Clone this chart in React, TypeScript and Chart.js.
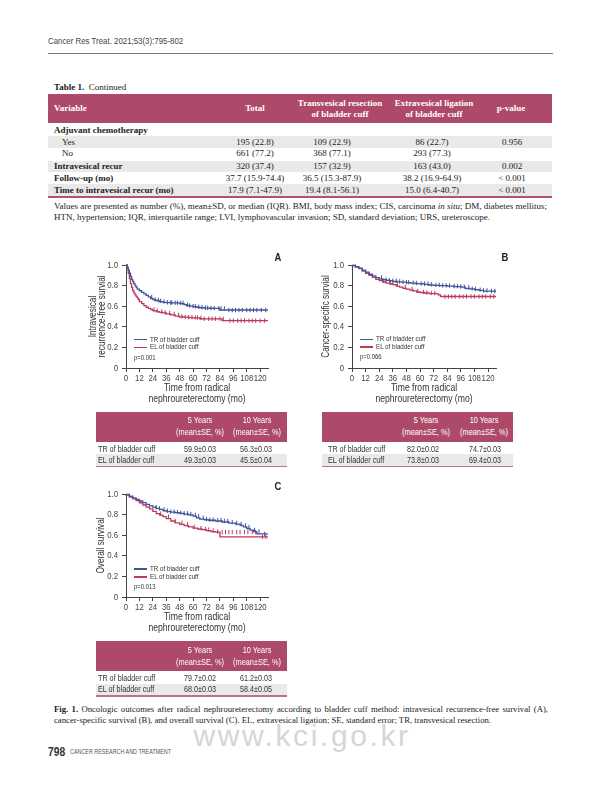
import React, { useEffect, useRef } from "react";
import { Chart, registerables } from "chart.js";
Chart.register(...registerables);

const SANS = '"Liberation Sans", Arial, sans-serif';
const SERIF = '"Liberation Serif", "Times New Roman", serif';
const NARROW = 0.82; // horizontal squeeze to imitate the condensed face of the original
const MAROON = "#ad4a69";
const SHADE = "#e9e9e9";

const X_TICKS = [0, 12, 24, 36, 48, 60, 72, 84, 96, 108, 120];
const Y_TICKS = [0, 0.2, 0.4, 0.6, 0.8, 1.0];
const X_MAX = 127;
const SERIES = ["TR of bladder cuff", "EL of bladder cuff"];
const COLORS = ["#41549a", "#bb3a5c"];

// Panel A: intravesical recurrence-free survival
const A_TR_T = [0, 1, 2, 3, 4, 5, 6, 7, 8, 9, 10, 12, 14, 16, 18, 20, 22, 24, 26, 28, 30, 33, 36, 40, 44, 48, 52, 54, 57, 60, 63, 66, 70, 74, 78, 84, 89, 127];
const A_TR_S = [1.0, 1.0, 0.98, 0.95, 0.92, 0.89, 0.86, 0.84, 0.82, 0.8, 0.785, 0.765, 0.75, 0.735, 0.72, 0.705, 0.69, 0.675, 0.665, 0.658, 0.652, 0.645, 0.638, 0.635, 0.633, 0.632, 0.625, 0.615, 0.607, 0.6, 0.595, 0.59, 0.585, 0.582, 0.58, 0.578, 0.563, 0.563];
const A_TR_C = [23, 26, 29, 31, 34, 37, 40, 41, 44, 46, 49, 51, 55, 57, 60, 62, 65, 68, 71, 73, 76, 79, 83, 85, 88, 92, 95, 98, 101, 104, 108, 111, 114, 117, 121, 125];
const A_EL_T = [0, 1, 2, 3, 4, 5, 6, 7, 8, 9, 10, 11, 12, 14, 16, 18, 20, 22, 24, 27, 30, 33, 36, 40, 44, 48, 52, 56, 60, 66, 69, 86, 89, 127];
const A_EL_S = [1.0, 1.0, 0.97, 0.92, 0.87, 0.82, 0.78, 0.75, 0.73, 0.71, 0.695, 0.68, 0.665, 0.645, 0.625, 0.605, 0.59, 0.578, 0.568, 0.558, 0.548, 0.54, 0.535, 0.525, 0.515, 0.503, 0.495, 0.493, 0.49, 0.487, 0.478, 0.476, 0.46, 0.46];
const A_EL_C = [25, 28, 32, 35, 39, 43, 47, 50, 53, 56, 59, 62, 64, 67, 70, 74, 77, 80, 84, 87, 93, 96, 100, 103, 106, 110, 113, 116, 120, 124];

// Panel B: cancer-specific survival
const B_TR_T = [0, 3, 6, 9, 12, 15, 18, 21, 24, 27, 30, 33, 36, 40, 44, 48, 52, 56, 60, 64, 68, 72, 78, 84, 90, 96, 100, 104, 108, 112, 116, 120, 127];
const B_TR_S = [1.0, 0.995, 0.985, 0.97, 0.95, 0.93, 0.91, 0.895, 0.878, 0.865, 0.858, 0.852, 0.848, 0.84, 0.836, 0.833, 0.828, 0.825, 0.82, 0.818, 0.812, 0.806, 0.802, 0.8, 0.795, 0.79, 0.785, 0.772, 0.768, 0.76, 0.753, 0.747, 0.747];
const B_TR_C = [26, 30, 33, 36, 39, 42, 45, 48, 50, 54, 57, 61, 64, 67, 70, 74, 77, 80, 83, 86, 90, 93, 96, 99, 103, 106, 109, 113, 116, 119, 123, 126];
const B_EL_T = [0, 3, 6, 9, 12, 15, 18, 21, 24, 27, 30, 33, 36, 39, 42, 45, 48, 51, 54, 57, 60, 64, 68, 76, 78, 80, 127];
const B_EL_S = [1.0, 0.995, 0.98, 0.965, 0.94, 0.92, 0.9, 0.88, 0.86, 0.848, 0.835, 0.825, 0.818, 0.81, 0.795, 0.785, 0.773, 0.765, 0.756, 0.748, 0.738, 0.733, 0.728, 0.722, 0.71, 0.694, 0.694];
const B_EL_C = [28, 34, 40, 47, 53, 58, 63, 66, 70, 73, 82, 85, 88, 91, 95, 98, 101, 105, 108, 112, 115, 118, 122, 125];

// Panel C: overall survival
const C_TR_T = [0, 3, 6, 9, 12, 15, 18, 21, 24, 27, 30, 33, 36, 40, 44, 48, 52, 56, 60, 63, 66, 70, 74, 80, 86, 92, 98, 102, 105, 108, 111, 114, 117, 120, 127];
const C_TR_S = [1.0, 0.995, 0.978, 0.962, 0.948, 0.932, 0.916, 0.9, 0.885, 0.872, 0.86, 0.85, 0.838, 0.828, 0.824, 0.82, 0.812, 0.805, 0.797, 0.785, 0.768, 0.757, 0.75, 0.745, 0.738, 0.728, 0.718, 0.708, 0.695, 0.68, 0.665, 0.65, 0.635, 0.612, 0.612];
const C_TR_C = [27, 30, 34, 37, 40, 43, 46, 49, 52, 55, 58, 62, 65, 69, 72, 75, 78, 82, 85, 88, 91, 95, 99, 103, 107, 110, 115, 119, 124];
const C_EL_T = [0, 3, 6, 9, 12, 15, 18, 21, 24, 27, 30, 33, 36, 40, 44, 48, 52, 56, 60, 64, 68, 72, 76, 80, 84, 118, 127];
const C_EL_S = [1.0, 0.99, 0.97, 0.953, 0.935, 0.915, 0.893, 0.873, 0.855, 0.832, 0.81, 0.795, 0.78, 0.76, 0.738, 0.72, 0.705, 0.693, 0.68, 0.668, 0.66, 0.655, 0.645, 0.635, 0.63, 0.584, 0.584];
const C_EL_C = [31, 38, 44, 50, 55, 61, 67, 71, 74, 78, 82, 86, 89, 92, 95, 99, 102, 106, 109, 113, 116, 122, 125];

// Small tables
const SMALL_HEAD = [["5 Years", "(mean\u00b1SE, %)"], ["10 Years", "(mean\u00b1SE, %)"]];
const A_5Y = ["59.9\u00b10.03", "49.3\u00b10.03"];
const A_10Y = ["56.3\u00b10.03", "45.5\u00b10.04"];
const B_5Y = ["82.0\u00b10.02", "73.8\u00b10.03"];
const B_10Y = ["74.7\u00b10.03", "69.4\u00b10.03"];
const C_5Y = ["79.7\u00b10.02", "68.0\u00b10.03"];
const C_10Y = ["61.2\u00b10.03", "58.4\u00b10.05"];

// Main table
const MAIN_HEAD = ["Variable", "Total", "Transvesical resection|of bladder cuff", "Extravesical ligation|of bladder cuff", "p-value"];
const MAIN_LABELS = ["Adjuvant chemotherapy", "Yes", "No", "Intravesical recur", "Follow-up (mo)", "Time to intravesical recur (mo)"];
const MAIN_TOTAL = ["", "195 (22.8)", "661 (77.2)", "320 (37.4)", "37.7 (15.9-74.4)", "17.9 (7.1-47.9)"];
const MAIN_TR = ["", "109 (22.9)", "368 (77.1)", "157 (32.9)", "36.5 (15.3-87.9)", "19.4 (8.1-56.1)"];
const MAIN_EL = ["", "86 (22.7)", "293 (77.3)", "163 (43.0)", "38.2 (16.9-64.9)", "15.0 (6.4-40.7)"];
const MAIN_P = ["", "0.956", "", "0.002", "< 0.001", "< 0.001"];
const MAIN_BOLD = [true, false, false, true, true, true];
const MAIN_SHADE = [false, true, false, true, false, true];

function survAt(ts: number[], ss: number[], t: number) {
  let s = ss[0];
  for (let i = 0; i < ts.length; i++) if (ts[i] <= t) s = ss[i];
  return s;
}

type KMProps = {
  left: number; top: number; width: number; height: number; padRight: number;
  trT: number[]; trS: number[]; trC: number[]; elT: number[]; elS: number[]; elC: number[];
  yTitle: string | string[]; yTitlePad: number;
};

function KMChart(p: KMProps) {
  const ref = useRef<HTMLCanvasElement>(null);
  useEffect(() => {
    const canvas = ref.current!;
    const ctx = canvas.getContext("2d")!;
    const origFill = ctx.fillText.bind(ctx);
    // squeeze canvas text horizontally around its anchor to imitate a condensed face
    (ctx as any).fillText = (t: string, x: number, y: number) => {
      ctx.save();
      ctx.translate(x, y);
      ctx.scale(NARROW, 1);
      origFill(t, 0, 0);
      ctx.restore();
    };
    const lineDs = (t: number[], s: number[], col: string) => ({
      type: "line" as const,
      data: t.map((x, i) => ({ x, y: s[i] })),
      borderColor: col, borderWidth: 1.3, stepped: "after" as const,
      pointRadius: 0, fill: false, clip: false as const,
    });
    const censDs = (c: number[], t: number[], s: number[], col: string) => ({
      type: "scatter" as const,
      data: c.map((x) => ({ x, y: survAt(t, s, x) })),
      pointStyle: "line" as const, pointRotation: 90, pointRadius: 2.2,
      pointBorderColor: col, pointBackgroundColor: col, pointBorderWidth: 1,
      borderColor: col, showLine: false, clip: false as const,
    });
    const axisCol = "#444";
    const chart = new Chart(canvas, {
      type: "line",
      data: {
        datasets: [
          lineDs(p.trT, p.trS, COLORS[0]) as any,
          lineDs(p.elT, p.elS, COLORS[1]) as any,
          censDs(p.trC, p.trT, p.trS, COLORS[0]) as any,
          censDs(p.elC, p.elT, p.elS, COLORS[1]) as any,
        ],
      },
      options: {
        animation: false,
        responsive: false,
        layout: { padding: { top: 15, right: p.padRight, left: 0, bottom: 0 } },
        plugins: { legend: { display: false }, tooltip: { enabled: false } },
        scales: {
          x: {
            type: "linear", min: 0, max: X_MAX,
            afterBuildTicks: (s: any) => { s.ticks = X_TICKS.map((v) => ({ value: v })); },
            afterFit: (s: any) => { s.height = 42; },
            grid: { drawOnChartArea: false, drawTicks: true, tickLength: 4, color: axisCol },
            border: { display: true, color: axisCol, width: 1 },
            ticks: { padding: 1, color: "#444", autoSkip: false, maxRotation: 0, font: { family: SANS, size: 9.5 } },
            title: {
              display: true, text: ["Time from radical", "nephroureterectomy (mo)"], color: "#333",
              font: { family: SANS, size: 10.5, lineHeight: 1.1 }, padding: { top: 0, bottom: 5 },
            },
          },
          y: {
            type: "linear", min: 0, max: 1,
            afterBuildTicks: (s: any) => { s.ticks = Y_TICKS.map((v) => ({ value: v })); },
            afterFit: (s: any) => { s.width = 46; },
            grid: { drawOnChartArea: false, drawTicks: true, tickLength: 4, color: axisCol },
            border: { display: true, color: axisCol, width: 1 },
            ticks: {
              padding: 4, color: "#444", font: { family: SANS, size: 9.5 },
              callback: (v: any) => (Number(v) === 0 ? "0" : Number(v).toFixed(1)),
            },
            title: {
              display: true, text: p.yTitle as any, color: "#333",
              font: { family: SANS, size: 10, lineHeight: 0.86 }, padding: { top: p.yTitlePad, bottom: 0 },
            },
          },
        },
      },
    });
    return () => { chart.destroy(); (ctx as any).fillText = origFill; };
  }, []);
  return (
    <canvas ref={ref} width={p.width} height={p.height}
      style={{ position: "absolute", left: p.left, top: p.top, width: p.width, height: p.height }} />
  );
}

type TxtProps = { x: number; y: number; s: React.ReactNode; size?: number; fam?: string; w?: number; c?: string; al?: "left" | "center" | "right"; lh?: number };
function Txt({ x, y, s, size = 9, fam = SANS, w = 400, c = "#333", al = "left", lh }: TxtProps) {
  const h = lh ?? Math.round(size * 1.25);
  const sx = fam === SANS ? NARROW : 1;
  const st: React.CSSProperties = {
    position: "absolute", top: y - h / 2, height: h, lineHeight: h + "px", fontSize: size,
    fontFamily: fam, fontWeight: w, color: c, whiteSpace: "pre",
  };
  if (al === "left") { st.left = x; st.transformOrigin = "left center"; st.transform = `scaleX(${sx})`; }
  else if (al === "center") { st.left = x; st.transformOrigin = "center center"; st.transform = `translateX(-50%) scaleX(${sx})`; }
  else { st.right = 600 - x; st.transformOrigin = "right center"; st.transform = `scaleX(${sx})`; }
  return <div style={st}>{s}</div>;
}

function Box({ x, y, w, h, bg }: { x: number; y: number; w: number; h: number; bg: string }) {
  return <div style={{ position: "absolute", left: x, top: y, width: w, height: h, background: bg }} />;
}

function Legend({ lx, tx, y1, y2, py, pText }: { lx: number; tx: number; y1: number; y2: number; py: number; pText: string }) {
  return (
    <>
      <Box x={lx} y={y1 - 0.6} w={tx - lx - 3} h={1.2} bg={COLORS[0]} />
      <Txt x={tx} y={y1} s={SERIES[0]} size={7.6} c="#333" lh={8} />
      <Box x={lx} y={y2 - 0.6} w={tx - lx - 3} h={1.2} bg={COLORS[1]} />
      <Txt x={tx} y={y2} s={SERIES[1]} size={7.6} c="#333" lh={8} />
      <Txt x={lx} y={py} s={pText} size={7.2} c="#333" lh={8} />
    </>
  );
}

function SmallTable({ left, top, labelX, cols, valCols, v5, v10 }: { left: number; top: number; labelX: number; cols: number[]; valCols: number[]; v5: string[]; v10: string[] }) {
  const W = 191;
  return (
    <>
      <Box x={left} y={top} w={W} h={30} bg={MAROON} />
      {SMALL_HEAD.map((hd, i) => (
        <React.Fragment key={i}>
          <Txt x={cols[i]} y={top + 9} s={hd[0]} size={9} c="#fff" al="center" lh={11} />
          <Txt x={cols[i]} y={top + 21} s={hd[1]} size={9} c="#fff" al="center" lh={11} />
        </React.Fragment>
      ))}
      <Box x={left} y={top + 42.5} w={W} h={11.5} bg={SHADE} />
      {SERIES.map((s, r) => (
        <React.Fragment key={r}>
          <Txt x={labelX} y={top + 37 + r * 11} s={s} size={8.8} c="#333" lh={10} />
          <Txt x={valCols[0]} y={top + 37 + r * 11} s={v5[r]} size={8.8} c="#333" al="center" lh={10} />
          <Txt x={valCols[1]} y={top + 37 + r * 11} s={v10[r]} size={8.8} c="#333" al="center" lh={10} />
        </React.Fragment>
      ))}
      <Box x={left} y={top + 54} w={W} h={1.5} bg="#c46f88" />
    </>
  );
}

function MainTable() {
  const rowTops = [124.5, 136.3, 147.8, 160.7, 172.5, 184.3];
  const rowH = 11.7;
  const colX = [255, 332, 432, 512];
  const headX = [255, 340, 434, 511];
  const cols = [MAIN_TOTAL, MAIN_TR, MAIN_EL, MAIN_P];
  const fs = 9;
  return (
    <>
      <Txt x={54} y={87} fam={SERIF} size={fs} s={<><b>Table 1.</b>{"  Continued"}</>} c="#222" />
      <Box x={48.3} y={94} w={503.5} h={29} bg={MAROON} />
      <Txt x={54} y={108.5} fam={SERIF} size={fs} w={700} c="#fff" s={MAIN_HEAD[0]} />
      {MAIN_HEAD.slice(1).map((h, i) => {
        const parts = h.split("|");
        if (parts.length === 1) return <Txt key={i} x={headX[i]} y={108.5} fam={SERIF} size={fs} w={700} c="#fff" al="center" s={h} />;
        return (
          <React.Fragment key={i}>
            <Txt x={headX[i]} y={103} fam={SERIF} size={fs} w={700} c="#fff" al="center" s={parts[0]} lh={11} />
            <Txt x={headX[i]} y={114.5} fam={SERIF} size={fs} w={700} c="#fff" al="center" s={parts[1]} lh={11} />
          </React.Fragment>
        );
      })}
      {MAIN_LABELS.map((lab, r) => {
        const cy = rowTops[r] + rowH / 2;
        return (
          <React.Fragment key={r}>
            {MAIN_SHADE[r] && <Box x={48.3} y={rowTops[r]} w={503.5} h={rowH} bg={SHADE} />}
            <Txt x={MAIN_BOLD[r] ? 54 : 62} y={cy} fam={SERIF} size={fs} w={MAIN_BOLD[r] ? 700 : 400} c="#222" s={lab} lh={11} />
            {cols.map((col, ci) => col[r] ? <Txt key={ci} x={colX[ci]} y={cy} fam={SERIF} size={fs} c="#222" al="center" s={col[r]} lh={11} /> : null)}
          </React.Fragment>
        );
      })}
      <Box x={48.3} y={196} w={503.5} h={1.5} bg="#b4536f" />
    </>
  );
}

function JLine({ x, y, w, size, children, last, lh }: { x: number; y: number; w: number; size: number; children: React.ReactNode; last?: boolean; lh?: number }) {
  const h = lh ?? Math.round(size * 1.2);
  return (
    <div style={{
      position: "absolute", left: x, top: y - h / 2, width: w, height: h, lineHeight: h + "px",
      fontFamily: SERIF, fontSize: size, color: "#222", textAlign: "justify",
      textAlignLast: last ? "left" : "justify", whiteSpace: "normal", overflow: "visible",
    } as React.CSSProperties}>{children}</div>
  );
}

export default function App() {
  return (
    <div style={{ position: "fixed", left: 0, top: 0, width: 600, height: 800, background: "#fff", overflow: "hidden" }}>
      <Txt x={48} y={40.7} s="Cancer Res Treat. 2021;53(3):795-802" size={9.6} c="#444" />
      <Box x={48} y={53} w={505} h={1} bg="#777" />

      <MainTable />
      <JLine x={54} y={206.7} w={493} size={9}>
        Values are presented as number (%), mean±SD, or median (IQR). BMI, body mass index; CIS, carcinoma <i>in situ</i>; DM, diabetes mellitus;
      </JLine>
      <JLine x={54} y={217.5} w={493} size={9} last>
        HTN, hypertension; IQR, interquartile range; LVI, lymphovascular invasion; SD, standard deviation; URS, ureteroscope.
      </JLine>

      <KMChart left={80} top={250} width={200} height={160} padRight={12}
        trT={A_TR_T} trS={A_TR_S} trC={A_TR_C} elT={A_EL_T} elS={A_EL_S} elC={A_EL_C}
        yTitle={["Intravesical", "recurrence-free survial"]} yTitlePad={9} />
      <KMChart left={306} top={250} width={200} height={160} padRight={10}
        trT={B_TR_T} trS={B_TR_S} trC={B_TR_C} elT={B_EL_T} elS={B_EL_S} elC={B_EL_C}
        yTitle={"Cancer-specific survial"} yTitlePad={16.3} />
      <KMChart left={80} top={479} width={200} height={160} padRight={12}
        trT={C_TR_T} trS={C_TR_S} trC={C_TR_C} elT={C_EL_T} elS={C_EL_S} elC={C_EL_C}
        yTitle={"Overall survival"} yTitlePad={17.3} />

      <Txt x={278.3} y={256.7} s="A" size={11.5} w={700} c="#222" al="center" />
      <Txt x={505} y={256.7} s="B" size={11.5} w={700} c="#222" al="center" />
      <Txt x={278.3} y={486} s="C" size={11.5} w={700} c="#222" al="center" />

      <Legend lx={134} tx={150} y1={339.7} y2={347.3} py={357.7} pText="p=0.001" />
      <Legend lx={360} tx={376} y1={339.3} y2={347} py={357} pText="p=0.066" />
      <Legend lx={134} tx={150} y1={569} y2={577} py={587.3} pText="p=0.013" />

      <SmallTable left={96} top={411.7} labelX={97.7} cols={[200, 257]} valCols={[200, 256]} v5={A_5Y} v10={A_10Y} />
      <SmallTable left={322.3} top={411.7} labelX={328.3} cols={[426, 484]} valCols={[423, 485]} v5={B_5Y} v10={B_10Y} />
      <SmallTable left={96} top={641} labelX={97.7} cols={[200, 257]} valCols={[200, 256]} v5={C_5Y} v10={C_10Y} />

      <JLine x={54} y={709} w={494} size={8.7} lh={9}>
        <b>Fig. 1.</b>{"  "}Oncologic outcomes after radical nephroureterectomy according to bladder cuff method: intravesical recurrence-free survival (A),
      </JLine>
      <JLine x={54} y={719.6} w={494} size={8.7} lh={8} last>
        cancer-specific survival (B), and overall survival (C). EL, extravesical ligation; SE, standard error; TR, transvesical resection.
      </JLine>

      <div style={{ position: "absolute", left: 302, top: 729, transform: "translateX(-50%)", fontFamily: SANS, fontSize: 30, lineHeight: "14px", height: 14, color: "#d6d6d6", letterSpacing: 2.6, whiteSpace: "pre" }}>www.kci.go.kr</div>

      <Txt x={48} y={751.7} s="798" size={12.5} w={700} c="#333" />
      <Txt x={70.4} y={752} s="CANCER RESEARCH AND TREATMENT" size={6.6} c="#555" />
    </div>
  );
}
